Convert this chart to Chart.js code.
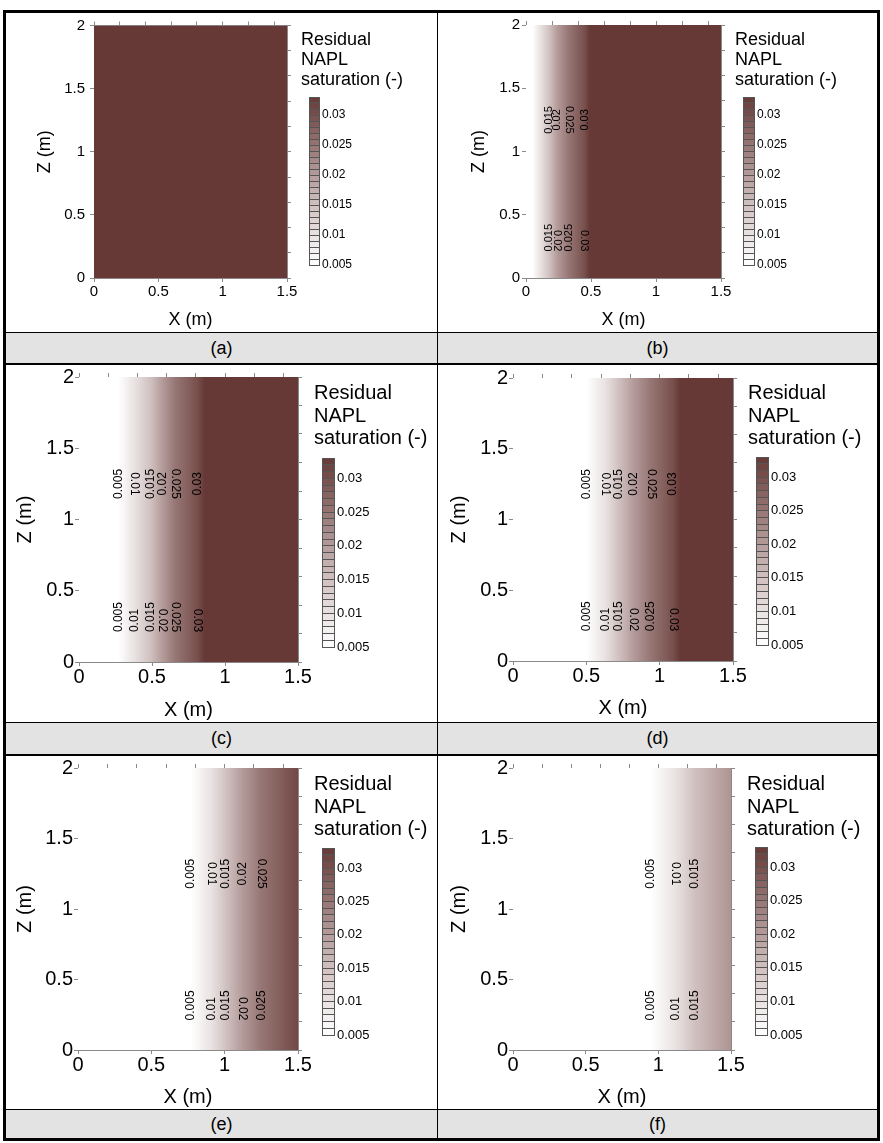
<!DOCTYPE html>
<html lang="en">
<head>
<meta charset="UTF-8">
<script src="https://cdn.jsdelivr.net/npm/chart.js"></script>
<title>Residual NAPL saturation</title>
<style>
  body { margin: 0; background: #fff; font-family: "Liberation Sans", Arial, sans-serif; }
  #page { position: relative; width: 883px; height: 1143px; overflow: hidden; }
  .line { position: absolute; background: #000; }
  .caption { position: absolute; background: #e3e3e3; color: #000; font-size: 18px; text-align: center; }
  .legendTitle { position: absolute; color: #000; white-space: nowrap; }
  canvas { position: absolute; display: block; }
</style>
</head>
<body>
<div id="page">
  <div style="position:absolute; left:3px; top:10px; width:871px; height:1125px; border:3px solid #000;"></div>
  <div class="line" style="left:437px; top:13px; width:1px; height:1125px;"></div>

  <div class="line" style="left:6px; top:332px; width:871px; height:1px;"></div>
  <div class="caption" style="left:6px; top:333px; width:431px; height:30px; line-height:30px;">(a)</div>
  <div class="caption" style="left:438px; top:333px; width:439px; height:30px; line-height:30px;">(b)</div>
  <div class="line" style="left:6px; top:363px; width:871px; height:2px;"></div>

  <div class="line" style="left:6px; top:722px; width:871px; height:1px;"></div>
  <div class="caption" style="left:6px; top:723px; width:431px; height:31px; line-height:31px;">(c)</div>
  <div class="caption" style="left:438px; top:723px; width:439px; height:31px; line-height:31px;">(d)</div>
  <div class="line" style="left:6px; top:754px; width:871px; height:2px;"></div>

  <div class="line" style="left:6px; top:1109px; width:871px; height:1px;"></div>
  <div class="caption" style="left:6px; top:1110px; width:431px; height:28px; line-height:28px;">(e)</div>
  <div class="caption" style="left:438px; top:1110px; width:439px; height:28px; line-height:28px;">(f)</div>
</div>

<script>
// ---- data ----
const domainX = [0, 1.5];
const domainZ = [0, 2];

const xTickValues = [0, 0.5, 1, 1.5];
const xTickLabels = ['0', '0.5', '1', '1.5'];
const zTickValues = [0, 0.5, 1, 1.5, 2];
const zTickLabels = ['0', '0.5', '1', '1.5', '2'];
const xMinorValues = [0, 0.2, 0.4, 0.6, 0.8, 1.0, 1.2, 1.4];
const zMinorValues = [0, 0.2, 0.4, 0.6, 0.8, 1.0, 1.2, 1.4, 1.6, 1.8, 2.0];

// colour bar
const colorbarTicks = [0.005, 0.01, 0.015, 0.02, 0.025, 0.03];
const colorbarTickLabels = ['0.005', '0.01', '0.015', '0.02', '0.025', '0.03'];
const colorbarEdges = [0.005, 0.006, 0.007, 0.008, 0.009, 0.010, 0.011, 0.012, 0.013, 0.014,
                       0.015, 0.016, 0.017, 0.018, 0.019, 0.020, 0.021, 0.022, 0.023, 0.024,
                       0.025, 0.026, 0.027, 0.028, 0.029, 0.030, 0.031, 0.032, 0.033];

// saturation profile along X (same at every Z): positions (m) and values
const profileAx = [0, 1.5];
const profileAs = [0.033, 0.033];
const profileBx = [0, 0.02, 0.05, 0.11, 0.18, 0.24, 0.33, 0.45, 0.49, 1.5];
const profileBs = [0.003, 0.004, 0.005, 0.01, 0.015, 0.02, 0.025, 0.03, 0.033, 0.033];
const profileCx = [0, 0.27, 0.38, 0.49, 0.57, 0.66, 0.81, 0.86, 1.5];
const profileCs = [0, 0.005, 0.01, 0.015, 0.02, 0.025, 0.03, 0.033, 0.033];
const profileDx = [0, 0.50, 0.63, 0.72, 0.82, 0.94, 1.09, 1.14, 1.5];
const profileDs = [0, 0.005, 0.01, 0.015, 0.02, 0.025, 0.03, 0.033, 0.033];
const profileEx = [0, 0.77, 0.91, 1.01, 1.12, 1.25, 1.5];
const profileEs = [0, 0.005, 0.01, 0.015, 0.02, 0.025, 0.031];
const profileFx = [0, 0.95, 1.12, 1.25, 1.5];
const profileFs = [0, 0.005, 0.01, 0.015, 0.021];

// contour levels labelled in each panel, and which labels are drawn upside down
const labelsA = [];
const labelsB = [0.015, 0.02, 0.025, 0.03];
const labelsC = [0.005, 0.01, 0.015, 0.02, 0.025, 0.03];
const labelsD = [0.005, 0.01, 0.015, 0.02, 0.025, 0.03];
const labelsE = [0.005, 0.01, 0.015, 0.02, 0.025];
const labelsF = [0.005, 0.01, 0.015];
const flipUpperB = [0.025], flipLowerB = [0.02, 0.03];
const flipUpperC = [0.01, 0.025], flipLowerC = [0.02, 0.025, 0.03];
const flipUpperD = [0.01, 0.025], flipLowerD = [0.02, 0.03];
const flipUpperE = [0.01, 0.025], flipLowerE = [0.02];
const flipUpperF = [0.01], flipLowerF = [];

// colour map of the legend
const cmapLevels = [0.005, 0.01, 0.015, 0.02, 0.025, 0.03, 0.033];
const cmapColors = [[255, 255, 255], [233, 226, 226], [208, 193, 192], [180, 156, 155],
                    [150, 118, 116], [120, 80, 77], [102, 57, 54]];

const axisGray = '#8a8a8a';
Chart.defaults.font.family = '"Liberation Sans", Arial, sans-serif';
Chart.defaults.animation = false;

function satColor(s) {
  if (s <= cmapLevels[0]) return 'rgb(' + cmapColors[0].join(',') + ')';
  for (let i = 1; i < cmapLevels.length; i++) {
    if (s <= cmapLevels[i]) {
      const t = (s - cmapLevels[i - 1]) / (cmapLevels[i] - cmapLevels[i - 1]);
      const a = cmapColors[i - 1], b = cmapColors[i];
      return 'rgb(' + a.map((c, k) => Math.round(c + (b[k] - c) * t)).join(',') + ')';
    }
  }
  return 'rgb(' + cmapColors[cmapColors.length - 1].join(',') + ')';
}

// layout of each panel (pixels on the page)
const panels = [
  { profX: profileAx, profS: profileAs, labels: labelsA, flipU: [], flipL: [],
    cell: { l: 6, t: 13, b: 331 }, plot: { l: 94, t: 25, r: 287, b: 278 },
    zTitleX: 45, xTitleY: 320, tick: 15, title: 18, yPad: 5, xPad: 2, label: 12,
    bar: { l: 309, t: 97, r: 319, b: 265 }, barFont: 12, legend: { l: 301, t: 29, lh: 20, f: 18 } },
  { profX: profileBx, profS: profileBs, labels: labelsB, flipU: flipUpperB, flipL: flipLowerB,
    cell: { l: 438, t: 13, b: 331 }, plot: { l: 526, t: 25, r: 721, b: 278 },
    zTitleX: 479, xTitleY: 320, tick: 15, title: 18, yPad: 2, xPad: 2, label: 11,
    bar: { l: 743, t: 97, r: 754, b: 265 }, barFont: 12, legend: { l: 735, t: 29, lh: 20, f: 18 } },
  { profX: profileCx, profS: profileCs, labels: labelsC, flipU: flipUpperC, flipL: flipLowerC,
    cell: { l: 6, t: 365, b: 722 }, plot: { l: 79, t: 377, r: 298, b: 662 },
    zTitleX: 25, xTitleY: 710, tick: 20, title: 20, yPad: 1, xPad: 1, label: 12,
    bar: { l: 322, t: 458, r: 334, b: 647 }, barFont: 13, legend: { l: 314, t: 381, lh: 22.5, f: 20 } },
  { profX: profileDx, profS: profileDs, labels: labelsD, flipU: flipUpperD, flipL: flipLowerD,
    cell: { l: 438, t: 365, b: 722 }, plot: { l: 513, t: 378, r: 733, b: 661 },
    zTitleX: 459, xTitleY: 708, tick: 20, title: 20, yPad: 1, xPad: 1, label: 12,
    bar: { l: 756, t: 457, r: 768, b: 645 }, barFont: 13, legend: { l: 748, t: 381, lh: 22.5, f: 20 } },
  { profX: profileEx, profS: profileEs, labels: labelsE, flipU: flipUpperE, flipL: flipLowerE,
    cell: { l: 6, t: 756, b: 1109 }, plot: { l: 78, t: 768, r: 298, b: 1050 },
    zTitleX: 25, xTitleY: 1097, tick: 20, title: 20, yPad: 1, xPad: 1, label: 12,
    bar: { l: 322, t: 848, r: 334, b: 1035 }, barFont: 13, legend: { l: 314, t: 772, lh: 22.5, f: 20 } },
  { profX: profileFx, profS: profileFs, labels: labelsF, flipU: flipUpperF, flipL: flipLowerF,
    cell: { l: 438, t: 756, b: 1109 }, plot: { l: 513, t: 768, r: 731, b: 1050 },
    zTitleX: 459, xTitleY: 1097, tick: 20, title: 20, yPad: 1, xPad: 1, label: 12,
    bar: { l: 755, t: 847, r: 767, b: 1035 }, barFont: 13, legend: { l: 747, t: 772, lh: 22.5, f: 20 } }
];

const page = document.getElementById('page');

function placeCanvas(left, top, w, h) {
  const cv = document.createElement('canvas');
  cv.width = w; cv.height = h;
  cv.style.left = left + 'px'; cv.style.top = top + 'px';
  cv.style.width = w + 'px'; cv.style.height = h + 'px';
  page.appendChild(cv);
  return cv;
}

function fieldGradient(p) {
  return function (context) {
    const { ctx, chartArea, scales } = context.chart;
    if (!chartArea) return null;
    const x0 = scales.x.getPixelForValue(domainX[0]);
    const x1 = scales.x.getPixelForValue(domainX[1]);
    const g = ctx.createLinearGradient(x0, 0, x1, 0);
    p.profX.forEach((x, i) => {
      const off = (scales.x.getPixelForValue(x) - x0) / (x1 - x0);
      g.addColorStop(Math.min(1, Math.max(0, off)), satColor(p.profS[i]));
    });
    return g;
  };
}

function contourLabels(p) {
  return {
    id: 'contourLabels',
    afterDatasetsDraw(chart) {
      const { ctx, scales } = chart;
      ctx.save();
      ctx.font = p.label + 'px "Liberation Sans", Arial, sans-serif';
      ctx.fillStyle = '#000';
      ctx.textBaseline = 'middle';
      p.labels.forEach(level => {
        const text = colorbarTickLabels[colorbarTicks.indexOf(level)];
        const px = scales.x.getPixelForValue(p.profX[p.profS.indexOf(level)]);
        // upper row, centred near Z = 1.25
        let flip = p.flipU.includes(level);
        ctx.save();
        ctx.translate(px, scales.y.getPixelForValue(1.25));
        ctx.rotate(flip ? Math.PI / 2 : -Math.PI / 2);
        ctx.textAlign = 'center';
        ctx.fillText(text, 0, 0);
        ctx.restore();
        // lower row, starting near Z = 0.21
        flip = p.flipL.includes(level);
        ctx.save();
        ctx.translate(px, scales.y.getPixelForValue(0.21));
        ctx.rotate(flip ? Math.PI / 2 : -Math.PI / 2);
        ctx.textAlign = flip ? 'right' : 'left';
        ctx.fillText(text, 0, 0);
        ctx.restore();
      });
      ctx.restore();
    }
  };
}

function makeField(p) {
  const left = p.cell.l, top = p.cell.t, right = p.plot.r + 16, bottom = p.cell.b;
  const cv = placeCanvas(left, top, right - left, bottom - top);
  const titleHalf = p.title * 0.6;
  new Chart(cv, {
    type: 'scatter',
    data: {
      datasets: [{
        data: domainX.map(x => ({ x: x, y: domainZ[1] })),
        showLine: true,
        fill: 'origin',
        borderWidth: 0,
        pointRadius: 0,
        backgroundColor: fieldGradient(p)
      }]
    },
    options: {
      responsive: false,
      events: [],
      layout: { padding: 0, autoPadding: false },
      plugins: { legend: { display: false }, tooltip: { enabled: false } },
      scales: {
        x: {
          type: 'linear', position: 'bottom', min: domainX[0], max: domainX[1],
          afterBuildTicks: s => { s.ticks = xTickValues.map(v => ({ value: v })); },
          afterFit: s => { s.height = bottom - p.plot.b; },
          ticks: { callback: (v, i) => xTickLabels[i], color: '#000', font: { size: p.tick, lineHeight: 1 },
                   padding: p.xPad, maxRotation: 0, autoSkip: false },
          grid: { drawOnChartArea: false, tickLength: 4, color: axisGray },
          border: { color: axisGray },
          title: { display: true, text: 'X (m)', color: '#000', font: { size: p.title, lineHeight: 1.2 },
                   padding: { top: 0, bottom: bottom - p.xTitleY - titleHalf } }
        },
        y: {
          type: 'linear', position: 'left', min: domainZ[0], max: domainZ[1],
          afterBuildTicks: s => { s.ticks = zTickValues.map(v => ({ value: v })); },
          afterFit: s => { s.width = p.plot.l - left; },
          ticks: { callback: (v, i) => zTickLabels[i], color: '#000', font: { size: p.tick, lineHeight: 1 },
                   padding: p.yPad, autoSkip: false },
          grid: { drawOnChartArea: false, tickLength: 4, color: axisGray },
          border: { color: axisGray },
          title: { display: true, text: 'Z (m)', color: '#000', font: { size: p.title, lineHeight: 1.2 },
                   padding: { top: p.zTitleX - left - titleHalf, bottom: 0 } }
        },
        x2: {
          type: 'linear', position: 'top', min: domainX[0], max: domainX[1],
          afterBuildTicks: s => { s.ticks = xMinorValues.map(v => ({ value: v })); },
          afterFit: s => { s.height = p.plot.t - top; },
          ticks: { display: false },
          grid: { drawOnChartArea: false, tickLength: 4, color: axisGray },
          border: { color: axisGray }
        },
        y2: {
          type: 'linear', position: 'right', min: domainZ[0], max: domainZ[1],
          afterBuildTicks: s => { s.ticks = zMinorValues.map(v => ({ value: v })); },
          afterFit: s => { s.width = 16; },
          ticks: { display: false },
          grid: { drawOnChartArea: false, tickLength: 4, color: axisGray },
          border: { color: axisGray }
        }
      }
    },
    plugins: [contourLabels(p)]
  });
}

function makeColorbar(p) {
  const b = p.bar, pad = 10, labelW = 50;
  const cv = placeCanvas(b.l, b.t - pad, (b.r - b.l) + labelW, (b.b - b.t) + 2 * pad);
  const bands = colorbarEdges.slice(1).map((hi, i) => ({ lo: colorbarEdges[i], hi: hi }));
  new Chart(cv, {
    type: 'bar',
    data: {
      labels: [''],
      datasets: bands.map(band => ({
        data: [[band.lo, band.hi]],
        backgroundColor: satColor((band.lo + band.hi) / 2),
        borderWidth: 0,
        categoryPercentage: 1,
        barPercentage: 1
      }))
    },
    options: {
      responsive: false,
      events: [],
      layout: { padding: { top: pad, bottom: pad, left: 0, right: 0 }, autoPadding: false },
      plugins: { legend: { display: false }, tooltip: { enabled: false } },
      scales: {
        x: { display: false, stacked: true },
        y: {
          position: 'right', min: colorbarEdges[0], max: colorbarEdges[colorbarEdges.length - 1],
          afterBuildTicks: s => { s.ticks = colorbarTicks.map(v => ({ value: v })); },
          afterFit: s => { s.width = labelW; },
          ticks: { callback: (v, i) => colorbarTickLabels[i], color: '#000', font: { size: p.barFont, lineHeight: 1 }, padding: 3 },
          grid: { display: false, drawTicks: false },
          border: { display: true, color: '#555', z: 1 }
        },
        y2: {
          position: 'left', min: colorbarEdges[0], max: colorbarEdges[colorbarEdges.length - 1],
          afterBuildTicks: s => { s.ticks = colorbarEdges.map(v => ({ value: v })); },
          afterFit: s => { s.width = 0; },
          ticks: { display: false },
          grid: { color: '#555', drawTicks: false, lineWidth: 1, z: 1 },
          border: { display: true, color: '#555', z: 1 }
        }
      }
    }
  });

  const t = document.createElement('div');
  t.className = 'legendTitle';
  t.style.left = p.legend.l + 'px';
  t.style.top = p.legend.t + 'px';
  t.style.fontSize = p.legend.f + 'px';
  t.style.lineHeight = p.legend.lh + 'px';
  t.innerHTML = 'Residual<br>NAPL<br>saturation (-)';
  page.appendChild(t);
}

panels.forEach(p => {
  makeField(p);
  makeColorbar(p);
});
</script>
</body>
</html>
